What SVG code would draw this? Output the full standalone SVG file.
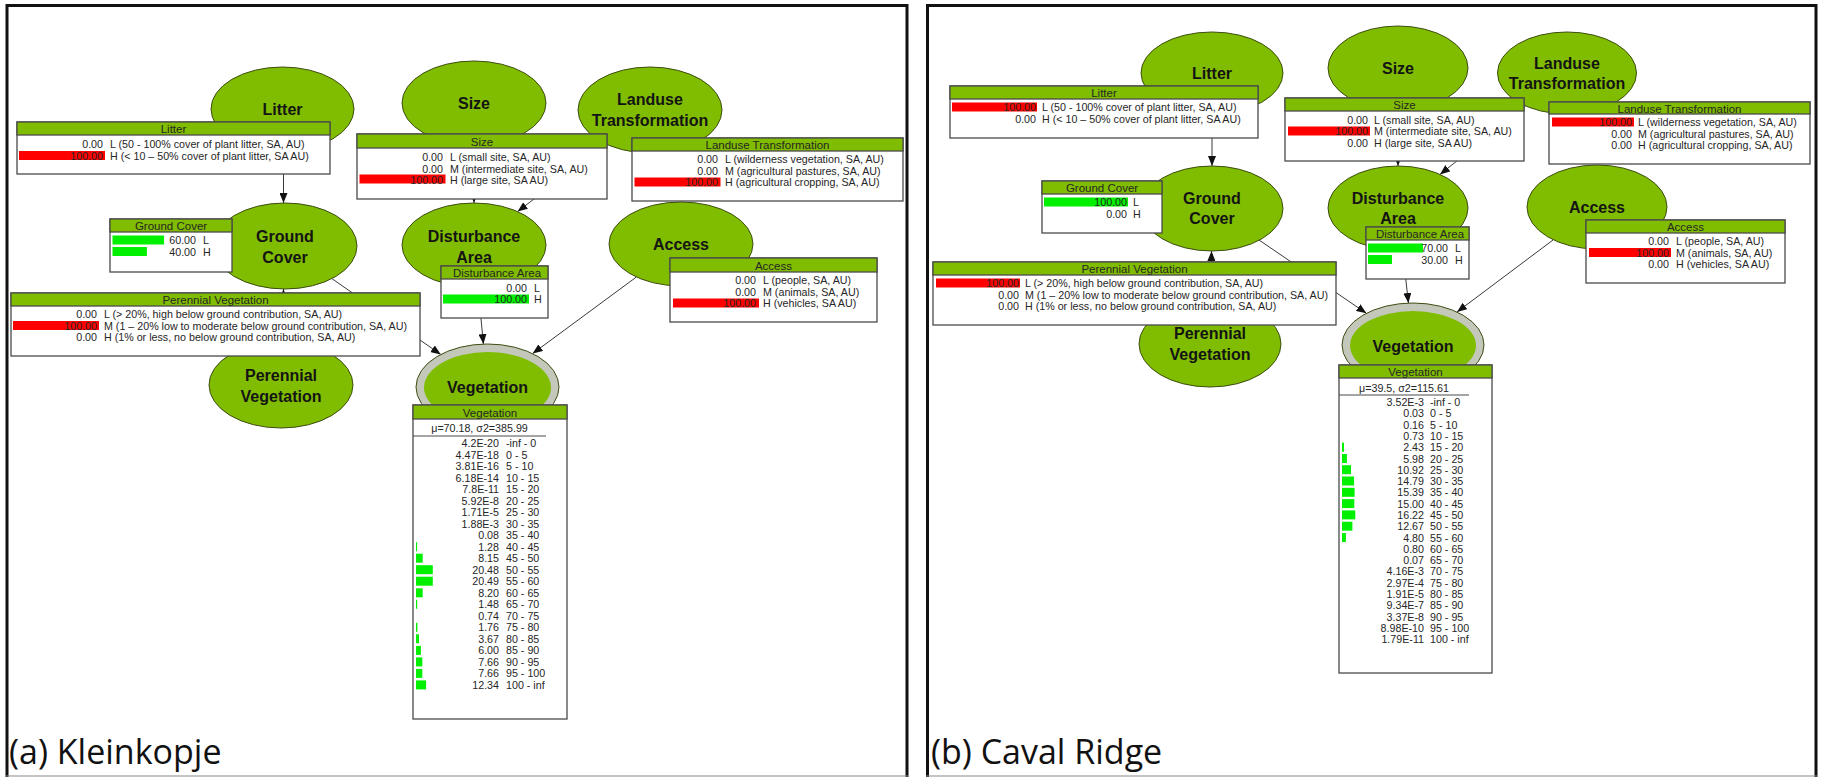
<svg xmlns="http://www.w3.org/2000/svg" width="1834" height="777" viewBox="0 0 1834 777">
<defs>
<style>
.frame{fill:none;stroke:#111;stroke-width:3}
.base{stroke:#8a8a8a;stroke-width:1.2}
.ell{fill:#80bc00;stroke:#3d4d12;stroke-width:1}
.ring{fill:#c3c8bb;stroke:#3d4d12;stroke-width:1}
.core{fill:#80bc00}
.nl{font-family:"Liberation Sans",Arial,sans-serif;font-weight:bold;font-size:16px;fill:#141414;text-anchor:middle}
.box{fill:#fff;stroke:#4a4a4a;stroke-width:1.3}
.hd{fill:#80bc00;stroke:#4a4a4a;stroke-width:1.3}
.ht{font-family:"Liberation Sans",Arial,sans-serif;font-size:11.5px;fill:#262626;text-anchor:middle}
.v{font-family:"Liberation Sans",Arial,sans-serif;font-size:10.7px;fill:#262626;text-anchor:end}
.s{font-family:"Liberation Sans",Arial,sans-serif;font-size:10.7px;fill:#262626}
.mu{font-family:"Liberation Sans",Arial,sans-serif;font-size:10.7px;fill:#262626;text-anchor:middle}
.sep{stroke:#4a4a4a;stroke-width:1}
.red{fill:#ff0000}
.grn{fill:#00f000}
.lk{fill:none;stroke:#3a3a3a;stroke-width:1;marker-end:url(#ah)}
.cap{font-family:"Open Sans","Liberation Sans",sans-serif;font-size:34px;fill:#111}
</style>
<marker id="ah" viewBox="0 0 10 8" refX="10" refY="4" markerWidth="10" markerHeight="8" markerUnits="userSpaceOnUse" orient="auto">
<path d="M0,0 L10,4 L0,8 z" fill="#111"/>
</marker>
</defs>
<rect width="1834" height="777" fill="#fff"/>

<!-- panel frames -->
<g id="frames">
<path class="frame" d="M7,777 V5.5 H907 V777"/>
<line class="base" x1="6" y1="776" x2="908" y2="776"/>
<path class="frame" d="M927.5,777 V5.5 H1816 V777"/>
<line class="base" x1="926" y1="776" x2="1817" y2="776"/>
</g>

<!-- links, panel a -->
<g id="connectors-a">
<line class="lk" x1="283.5" y1="151" x2="283.5" y2="203"/>
<line class="lk" x1="474" y1="145" x2="474" y2="203"/>
<line class="lk" x1="605.8" y1="143.9" x2="517.6" y2="211.6"/>
<line class="lk" x1="478" y1="286.9" x2="483.4" y2="344.1"/>
<line class="lk" x1="636.4" y1="277" x2="532.6" y2="353.6"/>
<line class="lk" x1="331.9" y1="278.6" x2="440.8" y2="354.5"/>
<line class="lk" x1="283" y1="342" x2="283.5" y2="289"/>
</g>

<!-- links, panel b -->
<g id="connectors-b">
<line class="lk" x1="1212" y1="114" x2="1212" y2="166"/>
<line class="lk" x1="1398" y1="110" x2="1398" y2="166"/>
<line class="lk" x1="1525.6" y1="106.1" x2="1440" y2="174.4"/>
<line class="lk" x1="1402.6" y1="249.9" x2="1408.4" y2="303.1"/>
<line class="lk" x1="1553.3" y1="239.8" x2="1457" y2="312"/>
<line class="lk" x1="1258.6" y1="239.7" x2="1366.4" y2="313.3"/>
<line class="lk" x1="1211" y1="302" x2="1211.5" y2="251"/>
</g>

<!-- nodes, panel a -->
<g id="a-litter"><ellipse class="ell" cx="282.5" cy="109" rx="71.5" ry="42"/><text class="nl" x="282.5" y="115">Litter</text></g>
<g id="a-size"><ellipse class="ell" cx="474" cy="103" rx="72" ry="42"/><text class="nl" x="474" y="109">Size</text></g>
<g id="a-landuse"><ellipse class="ell" cx="650" cy="110" rx="72" ry="43"/><text class="nl" x="650" y="105">Landuse</text><text class="nl" x="650" y="126">Transformation</text></g>
<g id="a-ground-cover"><ellipse class="ell" cx="285" cy="246" rx="72" ry="43"/><text class="nl" x="285" y="242">Ground</text><text class="nl" x="285" y="263">Cover</text></g>
<g id="a-disturbance"><ellipse class="ell" cx="474" cy="245" rx="72" ry="42"/><text class="nl" x="474" y="242">Disturbance</text><text class="nl" x="474" y="263">Area</text></g>
<g id="a-access"><ellipse class="ell" cx="681" cy="244" rx="72" ry="42"/><text class="nl" x="681" y="250">Access</text></g>
<g id="a-perennial"><ellipse class="ell" cx="281" cy="385" rx="72" ry="43"/><text class="nl" x="281" y="381">Perennial</text><text class="nl" x="281" y="402">Vegetation</text></g>
<g id="a-vegetation"><ellipse class="ring" cx="487.5" cy="387" rx="71.5" ry="43"/><ellipse class="core" cx="487.5" cy="387.5" rx="63.5" ry="35.5"/><text class="nl" x="487.5" y="393">Vegetation</text></g>

<!-- nodes, panel b -->
<g id="b-litter"><ellipse class="ell" cx="1212" cy="73" rx="71" ry="41"/><text class="nl" x="1212" y="79">Litter</text></g>
<g id="b-size"><ellipse class="ell" cx="1398" cy="68" rx="70" ry="42"/><text class="nl" x="1398" y="74">Size</text></g>
<g id="b-landuse"><ellipse class="ell" cx="1567" cy="73" rx="69.5" ry="41"/><text class="nl" x="1567" y="69">Landuse</text><text class="nl" x="1567" y="89">Transformation</text></g>
<g id="b-ground-cover"><ellipse class="ell" cx="1212" cy="208.5" rx="71" ry="42.5"/><text class="nl" x="1212" y="204">Ground</text><text class="nl" x="1212" y="224">Cover</text></g>
<g id="b-disturbance"><ellipse class="ell" cx="1398" cy="208" rx="70" ry="42"/><text class="nl" x="1398" y="204">Disturbance</text><text class="nl" x="1398" y="224">Area</text></g>
<g id="b-access"><ellipse class="ell" cx="1597" cy="207" rx="70" ry="42"/><text class="nl" x="1597" y="213">Access</text></g>
<g id="b-perennial"><ellipse class="ell" cx="1210" cy="344" rx="71" ry="43"/><text class="nl" x="1210" y="339">Perennial</text><text class="nl" x="1210" y="360">Vegetation</text></g>
<g id="b-vegetation"><ellipse class="ring" cx="1413" cy="345" rx="71" ry="42"/><ellipse class="core" cx="1413" cy="345.5" rx="63" ry="34.5"/><text class="nl" x="1413" y="352">Vegetation</text></g>

<!-- belief tables, panel a -->
<g id="a-litter-table">
<rect class="box" x="17" y="122" width="313" height="52"/><rect class="hd" x="17" y="122" width="313" height="13"/>
<text class="ht" x="173.5" y="133">Litter</text>
<rect class="red" x="19" y="151" width="86" height="9"/>
<text class="v" x="103" y="148">0.00</text><text class="s" x="110" y="148">L (50 - 100% cover of plant litter, SA, AU)</text>
<text class="v" x="103" y="159.5">100.00</text><text class="s" x="110" y="159.5">H (&lt; 10 – 50% cover of plant litter, SA AU)</text>
</g>
<g id="a-size-table">
<rect class="box" x="357" y="134" width="250" height="65"/><rect class="hd" x="357" y="134" width="250" height="14"/>
<text class="ht" x="482" y="146">Size</text>
<rect class="red" x="359.5" y="174.5" width="86" height="9"/>
<text class="v" x="443" y="161">0.00</text><text class="s" x="450" y="161">L (small site, SA, AU)</text>
<text class="v" x="443" y="172.5">0.00</text><text class="s" x="450" y="172.5">M (intermediate site, SA, AU)</text>
<text class="v" x="443" y="184">100.00</text><text class="s" x="450" y="184">H (large site, SA AU)</text>
</g>
<g id="a-landuse-table">
<rect class="box" x="632" y="138" width="271" height="63"/><rect class="hd" x="632" y="138" width="271" height="13"/>
<text class="ht" x="767.5" y="149">Landuse Transformation</text>
<rect class="red" x="634.5" y="177.5" width="86" height="9"/>
<text class="v" x="718" y="163">0.00</text><text class="s" x="725" y="163">L (wilderness vegetation, SA, AU)</text>
<text class="v" x="718" y="174.5">0.00</text><text class="s" x="725" y="174.5">M (agricultural pastures, SA, AU)</text>
<text class="v" x="718" y="186">100.00</text><text class="s" x="725" y="186">H (agricultural cropping, SA, AU)</text>
</g>
<g id="a-ground-cover-table">
<rect class="box" x="110" y="219" width="122" height="53"/><rect class="hd" x="110" y="219" width="122" height="13"/>
<text class="ht" x="171" y="230">Ground Cover</text>
<rect class="grn" x="112.5" y="235.5" width="51.6" height="9"/>
<rect class="grn" x="112.5" y="247" width="34.4" height="9"/>
<text class="v" x="196" y="244">60.00</text><text class="s" x="203" y="244">L</text>
<text class="v" x="196" y="255.5">40.00</text><text class="s" x="203" y="255.5">H</text>
</g>
<g id="a-perennial-table">
<rect class="box" x="11" y="293" width="409" height="63"/><rect class="hd" x="11" y="293" width="409" height="13"/>
<text class="ht" x="215.5" y="304">Perennial Vegetation</text>
<rect class="red" x="13" y="321" width="86" height="9"/>
<text class="v" x="97" y="318">0.00</text><text class="s" x="104" y="318">L (&gt; 20%, high below ground contribution, SA, AU)</text>
<text class="v" x="97" y="329.5">100.00</text><text class="s" x="104" y="329.5">M (1 – 20% low to moderate below ground contribution, SA, AU)</text>
<text class="v" x="97" y="341">0.00</text><text class="s" x="104" y="341">H (1% or less, no below ground contribution, SA, AU)</text>
</g>
<g id="a-disturbance-table">
<rect class="box" x="441" y="266" width="107" height="52"/><rect class="hd" x="441" y="266" width="107" height="13"/>
<text class="ht" x="497" y="277">Disturbance Area</text>
<rect class="grn" x="443" y="294.5" width="86" height="9"/>
<text class="v" x="527" y="291.5">0.00</text><text class="s" x="534" y="291.5">L</text>
<text class="v" x="527" y="303">100.00</text><text class="s" x="534" y="303">H</text>
</g>
<g id="a-access-table">
<rect class="box" x="670" y="258" width="207" height="64"/><rect class="hd" x="670" y="258" width="207" height="14"/>
<text class="ht" x="773.5" y="270">Access</text>
<rect class="red" x="673" y="298.5" width="86" height="9"/>
<text class="v" x="756" y="284">0.00</text><text class="s" x="763" y="284">L (people, SA, AU)</text>
<text class="v" x="756" y="295.5">0.00</text><text class="s" x="763" y="295.5">M (animals, SA, AU)</text>
<text class="v" x="756" y="307">100.00</text><text class="s" x="763" y="307">H (vehicles, SA AU)</text>
</g>
<g id="a-vegetation-table">
<rect class="box" x="413" y="405" width="154" height="314"/><rect class="hd" x="413" y="405" width="154" height="14"/>
<text class="ht" x="490" y="417">Vegetation</text>
<text class="mu" x="479.5" y="432">μ=70.18, σ2=385.99</text>
<line class="sep" x1="413" y1="436" x2="546" y2="436"/>
<rect class="grn" x="416" y="542.2" width="1.1" height="9"/>
<rect class="grn" x="416" y="553.7" width="6.7" height="9"/>
<rect class="grn" x="416" y="565.2" width="16.8" height="9"/>
<rect class="grn" x="416" y="576.7" width="16.8" height="9"/>
<rect class="grn" x="416" y="588.3" width="6.7" height="9"/>
<rect class="grn" x="416" y="599.8" width="1.2" height="9"/>
<rect class="grn" x="416" y="622.8" width="1.4" height="9"/>
<rect class="grn" x="416" y="634.3" width="3" height="9"/>
<rect class="grn" x="416" y="645.9" width="4.9" height="9"/>
<rect class="grn" x="416" y="657.4" width="6.3" height="9"/>
<rect class="grn" x="416" y="668.9" width="6.3" height="9"/>
<rect class="grn" x="416" y="680.4" width="10.1" height="9"/>
<g class="v">
<text x="499" y="447">4.2E-20</text><text x="499" y="458.5">4.47E-18</text><text x="499" y="470">3.81E-16</text><text x="499" y="481.6">6.18E-14</text>
<text x="499" y="493.1">7.8E-11</text><text x="499" y="504.6">5.92E-8</text><text x="499" y="516.1">1.71E-5</text><text x="499" y="527.6">1.88E-3</text>
<text x="499" y="539.2">0.08</text><text x="499" y="550.7">1.28</text><text x="499" y="562.2">8.15</text><text x="499" y="573.7">20.48</text>
<text x="499" y="585.2">20.49</text><text x="499" y="596.8">8.20</text><text x="499" y="608.3">1.48</text><text x="499" y="619.8">0.74</text>
<text x="499" y="631.3">1.76</text><text x="499" y="642.8">3.67</text><text x="499" y="654.4">6.00</text><text x="499" y="665.9">7.66</text>
<text x="499" y="677.4">7.66</text><text x="499" y="688.9">12.34</text>
</g>
<g class="s">
<text x="506" y="447">-inf - 0</text><text x="506" y="458.5">0 - 5</text><text x="506" y="470">5 - 10</text><text x="506" y="481.6">10 - 15</text>
<text x="506" y="493.1">15 - 20</text><text x="506" y="504.6">20 - 25</text><text x="506" y="516.1">25 - 30</text><text x="506" y="527.6">30 - 35</text>
<text x="506" y="539.2">35 - 40</text><text x="506" y="550.7">40 - 45</text><text x="506" y="562.2">45 - 50</text><text x="506" y="573.7">50 - 55</text>
<text x="506" y="585.2">55 - 60</text><text x="506" y="596.8">60 - 65</text><text x="506" y="608.3">65 - 70</text><text x="506" y="619.8">70 - 75</text>
<text x="506" y="631.3">75 - 80</text><text x="506" y="642.8">80 - 85</text><text x="506" y="654.4">85 - 90</text><text x="506" y="665.9">90 - 95</text>
<text x="506" y="677.4">95 - 100</text><text x="506" y="688.9">100 - inf</text>
</g>
</g>

<!-- belief tables, panel b -->
<g id="b-litter-table">
<rect class="box" x="950" y="86" width="308" height="52"/><rect class="hd" x="950" y="86" width="308" height="13"/>
<text class="ht" x="1104" y="97">Litter</text>
<rect class="red" x="952" y="102.5" width="85" height="9"/>
<text class="v" x="1036" y="111">100.00</text><text class="s" x="1042" y="111">L (50 - 100% cover of plant litter, SA, AU)</text>
<text class="v" x="1036" y="122.5">0.00</text><text class="s" x="1042" y="122.5">H (&lt; 10 – 50% cover of plant litter, SA AU)</text>
</g>
<g id="b-size-table">
<rect class="box" x="1285" y="98" width="239" height="63"/><rect class="hd" x="1285" y="98" width="239" height="13"/>
<text class="ht" x="1404.5" y="109">Size</text>
<rect class="red" x="1288" y="126.5" width="82" height="9"/>
<text class="v" x="1368" y="123.5">0.00</text><text class="s" x="1374" y="123.5">L (small site, SA, AU)</text>
<text class="v" x="1368" y="135">100.00</text><text class="s" x="1374" y="135">M (intermediate site, SA, AU)</text>
<text class="v" x="1368" y="146.5">0.00</text><text class="s" x="1374" y="146.5">H (large site, SA AU)</text>
</g>
<g id="b-landuse-table">
<rect class="box" x="1549" y="102" width="261" height="62"/><rect class="hd" x="1549" y="102" width="261" height="12"/>
<text class="ht" x="1679.5" y="112.5">Landuse Transformation</text>
<rect class="red" x="1552" y="117.5" width="82" height="9"/>
<text class="v" x="1632" y="126">100.00</text><text class="s" x="1638" y="126">L (wilderness vegetation, SA, AU)</text>
<text class="v" x="1632" y="137.5">0.00</text><text class="s" x="1638" y="137.5">M (agricultural pastures, SA, AU)</text>
<text class="v" x="1632" y="149">0.00</text><text class="s" x="1638" y="149">H (agricultural cropping, SA, AU)</text>
</g>
<g id="b-ground-cover-table">
<rect class="box" x="1042" y="181" width="120" height="52"/><rect class="hd" x="1042" y="181" width="120" height="13"/>
<text class="ht" x="1102" y="192">Ground Cover</text>
<rect class="grn" x="1044" y="197.5" width="84" height="9"/>
<text class="v" x="1127" y="206">100.00</text><text class="s" x="1133" y="206">L</text>
<text class="v" x="1127" y="217.5">0.00</text><text class="s" x="1133" y="217.5">H</text>
</g>
<g id="b-perennial-table">
<rect class="box" x="933" y="262" width="403" height="63"/><rect class="hd" x="933" y="262" width="403" height="13"/>
<text class="ht" x="1134.5" y="273">Perennial Vegetation</text>
<rect class="red" x="936" y="278.5" width="84" height="9"/>
<text class="v" x="1019" y="287">100.00</text><text class="s" x="1025" y="287">L (&gt; 20%, high below ground contribution, SA, AU)</text>
<text class="v" x="1019" y="298.5">0.00</text><text class="s" x="1025" y="298.5">M (1 – 20% low to moderate below ground contribution, SA, AU)</text>
<text class="v" x="1019" y="310">0.00</text><text class="s" x="1025" y="310">H (1% or less, no below ground contribution, SA, AU)</text>
</g>
<g id="b-disturbance-table">
<rect class="box" x="1366" y="227" width="103" height="52"/><rect class="hd" x="1366" y="227" width="103" height="13"/>
<text class="ht" x="1420" y="238">Disturbance Area</text>
<rect class="grn" x="1368" y="243.5" width="55" height="9"/>
<rect class="grn" x="1368" y="255" width="24" height="9"/>
<text class="v" x="1448" y="252">70.00</text><text class="s" x="1455" y="252">L</text>
<text class="v" x="1448" y="263.5">30.00</text><text class="s" x="1455" y="263.5">H</text>
</g>
<g id="b-access-table">
<rect class="box" x="1586" y="220" width="199" height="63"/><rect class="hd" x="1586" y="220" width="199" height="13"/>
<text class="ht" x="1685.5" y="231">Access</text>
<rect class="red" x="1589" y="248" width="82" height="9"/>
<text class="v" x="1669" y="245">0.00</text><text class="s" x="1676" y="245">L (people, SA, AU)</text>
<text class="v" x="1669" y="256.5">100.00</text><text class="s" x="1676" y="256.5">M (animals, SA, AU)</text>
<text class="v" x="1669" y="268">0.00</text><text class="s" x="1676" y="268">H (vehicles, SA AU)</text>
</g>
<g id="b-vegetation-table">
<rect class="box" x="1339" y="365" width="153" height="308"/><rect class="hd" x="1339" y="365" width="153" height="13"/>
<text class="ht" x="1415.5" y="376">Vegetation</text>
<text class="mu" x="1404" y="392">μ=39.5, σ2=115.61</text>
<line class="sep" x1="1339" y1="395" x2="1469" y2="395"/>
<rect class="grn" x="1342" y="442.7" width="2" height="9"/>
<rect class="grn" x="1342" y="454" width="4.9" height="9"/>
<rect class="grn" x="1342" y="465.2" width="9" height="9"/>
<rect class="grn" x="1342" y="476.5" width="12.1" height="9"/>
<rect class="grn" x="1342" y="487.8" width="12.6" height="9"/>
<rect class="grn" x="1342" y="499.1" width="12.3" height="9"/>
<rect class="grn" x="1342" y="510.4" width="13.3" height="9"/>
<rect class="grn" x="1342" y="521.7" width="10.4" height="9"/>
<rect class="grn" x="1342" y="533" width="3.9" height="9"/>
<g class="v">
<text x="1424" y="406">3.52E-3</text><text x="1424" y="417.3">0.03</text><text x="1424" y="428.6">0.16</text><text x="1424" y="439.9">0.73</text>
<text x="1424" y="451.2">2.43</text><text x="1424" y="462.5">5.98</text><text x="1424" y="473.7">10.92</text><text x="1424" y="485">14.79</text>
<text x="1424" y="496.3">15.39</text><text x="1424" y="507.6">15.00</text><text x="1424" y="518.9">16.22</text><text x="1424" y="530.2">12.67</text>
<text x="1424" y="541.5">4.80</text><text x="1424" y="552.8">0.80</text><text x="1424" y="564.1">0.07</text><text x="1424" y="575.4">4.16E-3</text>
<text x="1424" y="586.6">2.97E-4</text><text x="1424" y="597.9">1.91E-5</text><text x="1424" y="609.2">9.34E-7</text><text x="1424" y="620.5">3.37E-8</text>
<text x="1424" y="631.8">8.98E-10</text><text x="1424" y="643.1">1.79E-11</text>
</g>
<g class="s">
<text x="1430" y="406">-inf - 0</text><text x="1430" y="417.3">0 - 5</text><text x="1430" y="428.6">5 - 10</text><text x="1430" y="439.9">10 - 15</text>
<text x="1430" y="451.2">15 - 20</text><text x="1430" y="462.5">20 - 25</text><text x="1430" y="473.7">25 - 30</text><text x="1430" y="485">30 - 35</text>
<text x="1430" y="496.3">35 - 40</text><text x="1430" y="507.6">40 - 45</text><text x="1430" y="518.9">45 - 50</text><text x="1430" y="530.2">50 - 55</text>
<text x="1430" y="541.5">55 - 60</text><text x="1430" y="552.8">60 - 65</text><text x="1430" y="564.1">65 - 70</text><text x="1430" y="575.4">70 - 75</text>
<text x="1430" y="586.6">75 - 80</text><text x="1430" y="597.9">80 - 85</text><text x="1430" y="609.2">85 - 90</text><text x="1430" y="620.5">90 - 95</text>
<text x="1430" y="631.8">95 - 100</text><text x="1430" y="643.1">100 - inf</text>
</g>
</g>

<!-- panel captions -->
<text class="cap" x="9" y="764">(a) Kleinkopje</text>
<text class="cap" x="931" y="764">(b) Caval Ridge</text>
</svg>
